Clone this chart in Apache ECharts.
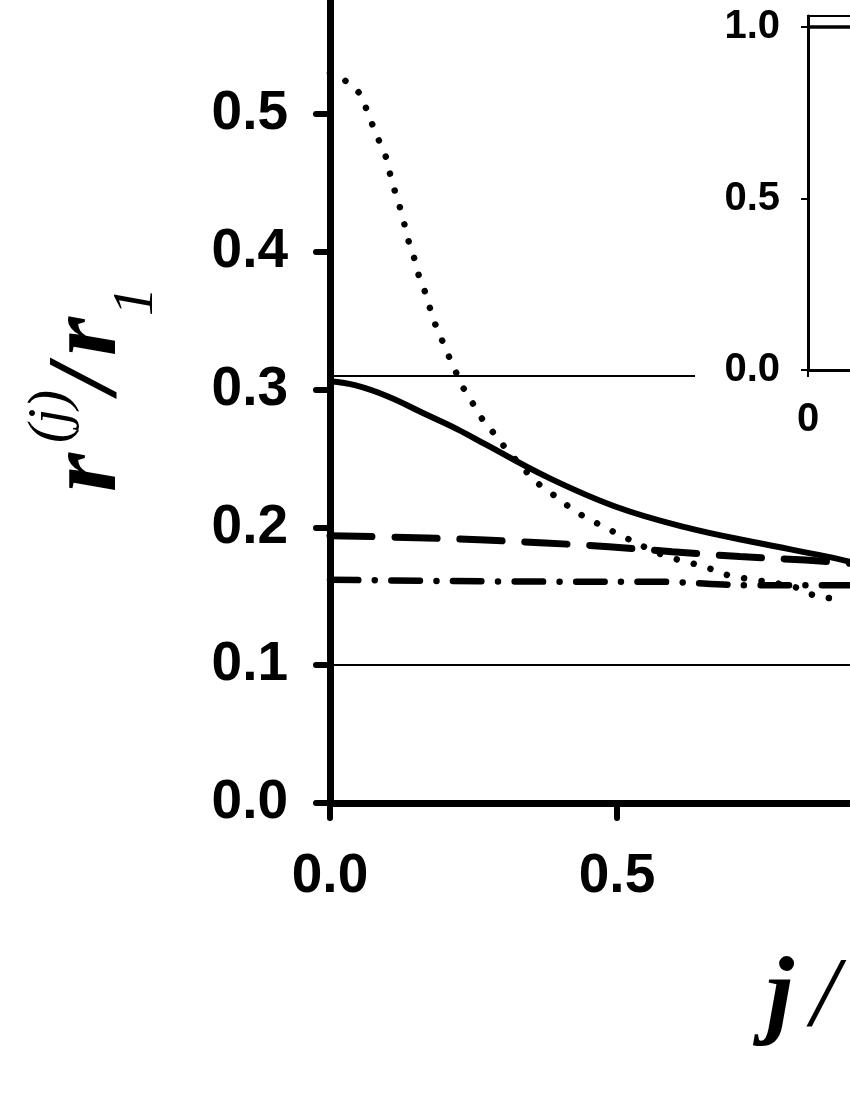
<!DOCTYPE html>
<html><head><meta charset="utf-8">
<script src="https://cdn.jsdelivr.net/npm/echarts@6/dist/echarts.min.js"></script>
<style>html,body{margin:0;padding:0;background:#fff}#c{width:850px;height:1100px}</style>
</head><body><div id="c"></div>
<script>
// ---- data ----
const mainXTicks = [0.0, 0.5, 1.0];
const mainYTicks = [0.0, 0.1, 0.2, 0.3, 0.4, 0.5];
const insetYTicks = [0.0, 0.5, 1.0];
const insetXTicks = [0];

const solidCurve = [[0.0,0.306],[0.045,0.303],[0.101,0.295],[0.162,0.283],[0.223,0.271],[0.272,0.260],[0.376,0.237],[0.498,0.215],[0.620,0.200],[0.742,0.189],[0.864,0.179],[0.906,0.175]];
const dashedCurve = [[0.0,0.194],[0.150,0.1925],[0.260,0.191],[0.375,0.1887],[0.486,0.186],[0.596,0.1824],[0.714,0.1788],[0.828,0.1763],[0.906,0.174]];
const dashDotCurve = [[0.0,0.162],[0.440,0.1606],[0.559,0.1606],[0.742,0.158],[0.864,0.158],[0.906,0.158]];
const dottedCurve = [[0.0,0.530],[0.027,0.524],[0.053,0.514],[0.064,0.503],[0.075,0.491],[0.087,0.479],[0.098,0.468],[0.105,0.456],[0.113,0.444],[0.122,0.432],[0.129,0.421],[0.136,0.409],[0.145,0.398],[0.153,0.385],[0.163,0.374],[0.172,0.362],[0.181,0.350],[0.192,0.339],[0.204,0.327],[0.216,0.316],[0.230,0.303],[0.246,0.292],[0.263,0.280],[0.284,0.269],[0.305,0.258],[0.357,0.234],[0.385,0.225],[0.413,0.216],[0.442,0.208],[0.470,0.202],[0.498,0.196],[0.527,0.190],[0.552,0.185],[0.580,0.180],[0.611,0.176],[0.639,0.173],[0.669,0.169],[0.696,0.165],[0.723,0.163],[0.807,0.157],[0.834,0.152],[0.864,0.149],[0.894,0.148]];
const refLevels = [0.306, 0.1];
const insetLine = [[0, 1.0], [0.2, 1.0]];

const chart = echarts.init(document.getElementById('c'), null, {renderer: 'canvas'});
const lblMain = {color:'#000', fontFamily:'Liberation Sans', fontWeight:'bold', fontSize:55};
const lblInset = {color:'#000', fontFamily:'Liberation Sans', fontWeight:'bold', fontSize:40};

function curve(data, style, z) {
  return {type:'line', xAxisIndex:0, yAxisIndex:0, data:data, showSymbol:false, symbol:'none',
    smooth:0.4, lineStyle:Object.assign({color:'#000'}, style), z:z||3, silent:true, animation:false};
}

chart.setOption({
  backgroundColor:'#fff',
  animation:false,
  grid:[
    {left:330, right:-54, top:-23.8, bottom:297, containLabel:false, outerBoundsMode:'none'},
    {left:808, right:-300, top:16, bottom:730, show:true, backgroundColor:'#fff', borderColor:'#000', borderWidth:2, z:20, containLabel:false, outerBoundsMode:'none'}
  ],
  xAxis:[
    {gridIndex:0, type:'value', min:0, max:1, interval:0.5, z:5,
      axisLine:{lineStyle:{color:'#000', width:7}},
      axisTick:{length:15, lineStyle:{color:'#000', width:6, cap:'round'}},
      axisLabel:Object.assign({margin:46, formatter:v=>v.toFixed(1), customValues:mainXTicks}, lblMain),
      splitLine:{show:false}},
    {gridIndex:1, type:'value', min:0, max:1, interval:0.5, z:21,
      axisLine:{lineStyle:{color:'#000', width:3}},
      axisTick:{length:7, lineStyle:{color:'#000', width:2}},
      axisLabel:Object.assign({margin:30, formatter:v=>String(v), customValues:insetXTicks}, lblInset),
      splitLine:{show:false}}
  ],
  yAxis:[
    {gridIndex:0, type:'value', min:0, max:0.6, interval:0.1, z:5,
      axisLine:{lineStyle:{color:'#000', width:7}},
      axisTick:{length:14, lineStyle:{color:'#000', width:6, cap:'round'}, customValues:mainYTicks},
      axisLabel:Object.assign({margin:42, formatter:v=>v.toFixed(1), customValues:mainYTicks}, lblMain),
      splitLine:{show:false}},
    {gridIndex:1, type:'value', min:0, max:1.032, interval:0.5, z:21,
      axisLine:{lineStyle:{color:'#000', width:3}},
      axisTick:{length:7, lineStyle:{color:'#000', width:2}, customValues:insetYTicks},
      axisLabel:Object.assign({margin:28, formatter:v=>v.toFixed(1), customValues:insetYTicks}, lblInset),
      splitLine:{show:false}}
  ],
  series:[
    {type:'line', xAxisIndex:0, yAxisIndex:0, data:[], silent:true, z:2,
      markLine:{silent:true, symbol:['none','none'], label:{show:false},
        lineStyle:{color:'#000', width:1.8, type:'solid'},
        data: refLevels.map(v=>({yAxis:v}))}},
    curve(dottedCurve, {width:6.5, type:[0.01, 17.5], cap:'round'}, 3),
    curve(dashDotCurve, {width:6.5, type:[28.5, 16.5, 0.01, 16.5], cap:'round'}, 3),
    curve(dashedCurve, {width:7, type:[42, 23], cap:'round'}, 3),
    curve(solidCurve, {width:6}, 4),
    {type:'line', xAxisIndex:1, yAxisIndex:1, data:insetLine, showSymbol:false, symbol:'none',
      lineStyle:{color:'#000', width:3.5}, z:22, silent:true}
  ],
  graphic:[
    {type:'rect', shape:{x:695, y:0, width:160, height:445}, style:{fill:'#fff'}, z:15, silent:true},
    {type:'group', x:0, y:0, rotation:Math.PI/2, z:30, children:[
      {type:'text', x:-492, y:89, style:{text:'r', font:'italic bold 100px "Liberation Serif"', fill:'#000', align:'left', verticalAlign:'middle'}},
      {type:'text', x:-443, y:52, style:{text:'(j)', font:'italic 56px "Liberation Serif"', fill:'#000', align:'left', verticalAlign:'middle'}},
      {type:'text', x:-393, y:89, style:{text:'/', font:'italic bold 100px "Liberation Serif"', fill:'#000', align:'left', verticalAlign:'middle'}},
      {type:'text', x:-356, y:89, style:{text:'r', font:'italic bold 100px "Liberation Serif"', fill:'#000', align:'left', verticalAlign:'middle'}},
      {type:'text', x:-316, y:137, style:{text:'1', font:'italic 58px "Liberation Serif"', fill:'#000', align:'left', verticalAlign:'middle'}}
    ]},
    {type:'text', x:766, y:999, z:30, style:{text:'j', font:'italic bold 100px "Liberation Serif"', fill:'#000', align:'left', verticalAlign:'middle'}},
    {type:'text', x:811, y:999, z:30, style:{text:'/ N', font:'italic 100px "Liberation Serif"', fill:'#000', align:'left', verticalAlign:'middle'}}
  ]
});
</script></body></html>
